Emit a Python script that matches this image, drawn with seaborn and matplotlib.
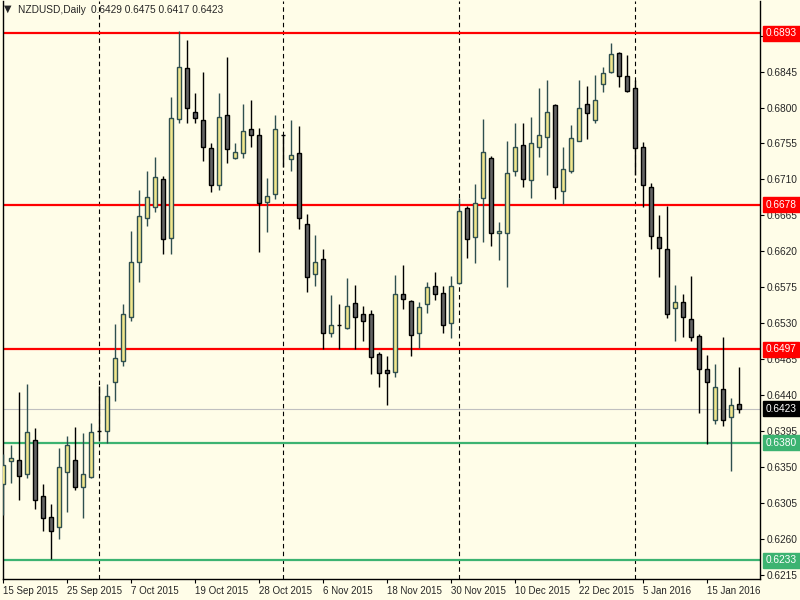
import matplotlib
matplotlib.use('Agg')
import matplotlib.pyplot as plt
import seaborn as sns
import numpy as np

# NZDUSD daily bars, 15 Sep 2015 .. 21 Jan 2016 (one entry per bar)
opens = [0.6328, 0.6357, 0.6358, 0.6341, 0.6383, 0.6313, 0.6287, 0.6274, 0.6344, 0.6358,
         0.6325, 0.6337, 0.6395, 0.6395, 0.6456, 0.6482, 0.6538, 0.6607, 0.6661, 0.6675,
         0.6711, 0.6637, 0.6785, 0.6849, 0.6795, 0.6784, 0.6749, 0.6703, 0.6790, 0.6737,
         0.6743, 0.6773, 0.6766, 0.6682, 0.6692, 0.6766, 0.6735, 0.6743, 0.6654, 0.6592,
         0.6610, 0.6517, 0.6527, 0.6524, 0.6555, 0.6542, 0.6542, 0.6491, 0.6471, 0.6469,
         0.6566, 0.6558, 0.6517, 0.6554, 0.6576, 0.6568, 0.6530, 0.6580, 0.6674, 0.6638,
         0.6687, 0.6737, 0.6643, 0.6643, 0.6721, 0.6753, 0.6709, 0.6751, 0.6763, 0.6803,
         0.6696, 0.6720, 0.6758, 0.6805, 0.6784, 0.6829, 0.6845, 0.6868, 0.6840, 0.6825,
         0.6750, 0.6701, 0.6638, 0.6623, 0.6549, 0.6557, 0.6535, 0.6514, 0.6473, 0.6409,
         0.6447, 0.6413, 0.6429]
highs = [0.6366, 0.6377, 0.6444, 0.6454, 0.6399, 0.6329, 0.6304, 0.6373, 0.6389, 0.6400,
         0.6392, 0.6405, 0.6451, 0.6454, 0.6529, 0.6554, 0.6645, 0.6697, 0.6721, 0.6738,
         0.6714, 0.6813, 0.6896, 0.6885, 0.6818, 0.6844, 0.6755, 0.6818, 0.6863, 0.6756,
         0.6804, 0.6810, 0.6774, 0.6712, 0.6791, 0.6766, 0.6784, 0.6777, 0.6667, 0.6640,
         0.6623, 0.6565, 0.6554, 0.6587, 0.6578, 0.6551, 0.6546, 0.6494, 0.6489, 0.6590,
         0.6603, 0.6559, 0.6556, 0.6581, 0.6594, 0.6576, 0.6589, 0.6687, 0.6677, 0.6704,
         0.6786, 0.6739, 0.6656, 0.6758, 0.6781, 0.6781, 0.6788, 0.6825, 0.6834, 0.6805,
         0.6751, 0.6778, 0.6834, 0.6827, 0.6841, 0.6851, 0.6881, 0.6870, 0.6866, 0.6834,
         0.6757, 0.6706, 0.6665, 0.6677, 0.6578, 0.6567, 0.6589, 0.6516, 0.6490, 0.6479,
         0.6512, 0.6436, 0.6475]
lows = [0.6290, 0.6330, 0.6309, 0.6336, 0.6297, 0.6269, 0.6234, 0.6260, 0.6294, 0.6321,
        0.6286, 0.6336, 0.6382, 0.6380, 0.6433, 0.6476, 0.6532, 0.6582, 0.6651, 0.6669,
        0.6616, 0.6616, 0.6781, 0.6781, 0.6780, 0.6733, 0.6694, 0.6697, 0.6731, 0.6736,
        0.6737, 0.6751, 0.6619, 0.6644, 0.6686, 0.6726, 0.6721, 0.6648, 0.6569, 0.6576,
        0.6497, 0.6513, 0.6498, 0.6522, 0.6498, 0.6507, 0.6466, 0.6450, 0.6427, 0.6462,
        0.6548, 0.6489, 0.6499, 0.6543, 0.6559, 0.6517, 0.6511, 0.6579, 0.6611, 0.6605,
        0.6632, 0.6626, 0.6609, 0.6575, 0.6714, 0.6701, 0.6687, 0.6738, 0.6715, 0.6686,
        0.6679, 0.6718, 0.6758, 0.6760, 0.6780, 0.6820, 0.6843, 0.6826, 0.6820, 0.6716,
        0.6675, 0.6623, 0.6588, 0.6536, 0.6507, 0.6512, 0.6508, 0.6417, 0.6379, 0.6404,
        0.6401, 0.6345, 0.6417]
closes = [0.6352, 0.6361, 0.6339, 0.6393, 0.6309, 0.6286, 0.6269, 0.6350, 0.6377, 0.6325,
          0.6341, 0.6393, 0.6395, 0.6439, 0.6486, 0.6541, 0.6606, 0.6664, 0.6688, 0.6713,
          0.6635, 0.6787, 0.6851, 0.6800, 0.6787, 0.6751, 0.6703, 0.6788, 0.6748, 0.6744,
          0.6771, 0.6765, 0.6681, 0.6689, 0.6773, 0.6766, 0.6741, 0.6661, 0.6588, 0.6607,
          0.6518, 0.6528, 0.6527, 0.6552, 0.6537, 0.6532, 0.6487, 0.6467, 0.6467, 0.6567,
          0.6560, 0.6515, 0.6550, 0.6575, 0.6566, 0.6527, 0.6577, 0.6671, 0.6635, 0.6681,
          0.6744, 0.6643, 0.6645, 0.6718, 0.6751, 0.6711, 0.6756, 0.6765, 0.6795, 0.6700,
          0.6723, 0.6762, 0.6800, 0.6793, 0.6810, 0.6843, 0.6867, 0.6839, 0.6821, 0.6749,
          0.6703, 0.6639, 0.6624, 0.6541, 0.6557, 0.6537, 0.6512, 0.6472, 0.6456, 0.6450,
          0.6409, 0.6428, 0.6423]

tick_bars = [0, 8, 16, 24, 32, 40, 48, 56, 64, 72, 80, 88]
tick_labels = ['15 Sep 2015', '25 Sep 2015', '7 Oct 2015', '19 Oct 2015', '28 Oct 2015',
               '6 Nov 2015', '18 Nov 2015', '30 Nov 2015', '10 Dec 2015', '22 Dec 2015',
               '5 Jan 2016', '15 Jan 2016']
month_starts = [12, 35, 57, 79]
price_ticks = [0.6215, 0.6260, 0.6305, 0.6350, 0.6395, 0.6440, 0.6485, 0.6530,
               0.6575, 0.6620, 0.6665, 0.6710, 0.6755, 0.6800, 0.6845, 0.6890]
resistance = [0.6893, 0.6678, 0.6497]
support = [0.6380, 0.6233]

bg = '#fffde8'
bull_fill, bull_edge = '#f0e68c', '#2f4f4f'
bear_fill, bear_edge = '#646464', '#000000'

sns.set_theme(style='ticks', rc={'axes.facecolor': bg, 'figure.facecolor': bg,
                                 'axes.edgecolor': 'black', 'axes.linewidth': 1.0})
plt.rcParams['font.family'] = ['Liberation Sans', 'DejaVu Sans']
fs = 7.3

fig = plt.figure(figsize=(8, 6), dpi=100)
ax = fig.add_axes([2.5 / 800, 20.7 / 600, 757.5 / 800, 578.3 / 600])

x = np.arange(len(opens))
o = np.array(opens); h = np.array(highs); l = np.array(lows); c = np.array(closes)
bull = c > o

# month separators
for m in month_starts:
    ax.axvline(m, color='black', lw=0.8, ls=(0, (4, 3)), zorder=1)

# level lines
ax.axhline(closes[-1], color='#c0c0c0', lw=0.8, zorder=1)
for p in resistance:
    ax.axhline(p, color='#ff0000', lw=1.6, zorder=2)
for p in support:
    ax.axhline(p, color='#3cb371', lw=1.6, zorder=2)

# candles
ax.vlines(x[bull], l[bull], h[bull], color=bull_edge, lw=1, zorder=3)
ax.vlines(x[~bull], l[~bull], h[~bull], color=bear_edge, lw=1, zorder=3)
ax.bar(x[bull], (c - o)[bull], bottom=o[bull], width=0.6, color=bull_fill,
       edgecolor=bull_edge, lw=1, zorder=4)
ax.bar(x[~bull], (o - c)[~bull], bottom=c[~bull], width=0.6, color=bear_fill,
       edgecolor=bear_edge, lw=1, zorder=4)

ax.set_xlim(-0.06, 94.62)
ax.set_ylim(0.62091, 0.69334)

ax.yaxis.tick_right()
ax.set_yticks(price_ticks)
# the top tick label sits under the 0.6893 box, as in the terminal
ax.set_yticklabels([f'{p:.4f}' if abs(p - resistance[0]) > 0.0008 else '' for p in price_ticks])
ax.set_xticks(tick_bars)
ax.set_xticklabels(tick_labels, ha='left')
ax.tick_params(axis='y', labelsize=fs, length=3, width=0.8, color='black', pad=2)
ax.tick_params(axis='x', labelsize=7.0, length=3, width=0.8, color='black', pad=2)
ax.spines['top'].set_visible(False)
for s in ['left', 'right', 'bottom']:
    ax.spines[s].set_visible(True)
    ax.spines[s].set_color('black')

# price labels on the axis
def price_box(p, fc):
    ax.text(1.0079, p, f'{p:.4f}', transform=ax.get_yaxis_transform(), color='white',
            fontsize=fs, va='center', ha='left', clip_on=False, zorder=10,
            bbox=dict(boxstyle='square,pad=0.25', fc=fc, ec=fc))

for p in resistance:
    price_box(p, '#ff0000')
for p in support:
    price_box(p, '#3cb371')
price_box(closes[-1], '#000000')

# header
fig.text(4 / 800, 1 - 12 / 600, '\u25bc', fontsize=7, family=['DejaVu Sans'], va='baseline')
fig.text(18 / 800, 1 - 13 / 600,
         f'NZDUSD,Daily\u2002{opens[-1]:.4f} {highs[-1]:.4f} {lows[-1]:.4f} {closes[-1]:.4f}',
         fontsize=fs, va='baseline')

fig.savefig('out.png', dpi=100, facecolor=bg)
